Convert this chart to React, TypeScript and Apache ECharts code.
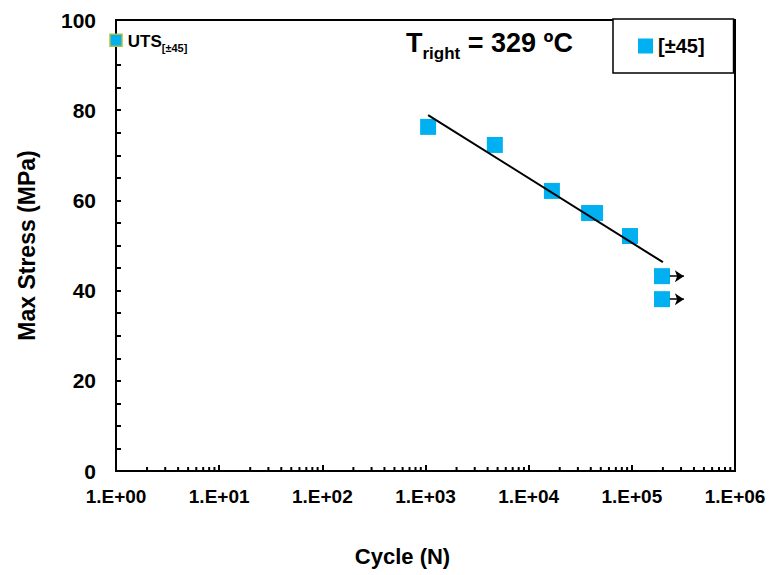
import React, { useEffect, useRef } from "react";
import * as echarts from "echarts";

// Data
const cycles = [1060, 4700, 16800, 38500, 44000, 96000, 196000, 196000];
const stresses = [76.3, 72.3, 62.1, 57.2, 57.2, 52.1, 43.2, 38.1];
const runoutCycles = [196000, 196000];
const runoutStress = [43.2, 38.1];
const trendCycles = [1060, 200000];
const trendStress = [78.9, 46.3];
const utsCycle = [1];
const utsStress = [95.5];
const yTicks = [0, 20, 40, 60, 80, 100];
const decades = [0, 1, 2, 3, 4, 5, 6];

const BLUE = "#00B0F0";
const FONT = "'Liberation Sans', Arial, sans-serif";

export default function App() {
  const ref = useRef<HTMLDivElement>(null);

  useEffect(() => {
    if (!ref.current) return;
    const chart = echarts.init(ref.current, null, { renderer: "svg" });

    const minorTicks: number[][] = [];
    for (let d = 0; d < decades.length - 1; d++) {
      for (let m = 2; m <= 9; m++) minorTicks.push([m * Math.pow(10, decades[d]), 0]);
    }

    const arrowData = runoutCycles.map((c, i) => [
      { coord: [c * 1.19, runoutStress[i]] },
      { coord: [c * 1.63, runoutStress[i]] },
    ]);

    const option: any = {
      animation: false,
      backgroundColor: "#fff",
      textStyle: { fontFamily: FONT },
      grid: {
        left: 116,
        right: 39,
        top: 20,
        bottom: 104,
        show: true,
        borderColor: "#000",
        borderWidth: 2,
        backgroundColor: "transparent",
      },
      legend: {
        data: [{ name: "[±45]", icon: "rect" }],
        left: 613,
        top: 19,
        padding: [17, 29, 17, 25],
        itemWidth: 15,
        itemHeight: 15,
        itemGap: 0,
        borderColor: "#000",
        borderWidth: 1.5,
        borderRadius: 0,
        backgroundColor: "#fff",
        textStyle: { fontSize: 20, fontWeight: "bold", color: "#000", fontFamily: FONT },
      },
      graphic: [
        {
          type: "text",
          left: 406,
          top: 29,
          z: 100,
          style: {
            text: "{a|T}{b|right}{a| = 329 ºC}",
            fill: "#000",
            rich: {
              a: { fontSize: 27, fontWeight: "bold", fontFamily: FONT, fill: "#000", verticalAlign: "bottom", lineHeight: 30 },
              b: { fontSize: 17, fontWeight: "bold", fontFamily: FONT, fill: "#000", verticalAlign: "bottom", lineHeight: 21, padding: [0, 0, -6, 0] },
            },
          },
        },
      ],
      xAxis: {
        type: "log",
        logBase: 10,
        min: 1,
        max: 1e6,
        splitNumber: 6,
        name: "Cycle (N)",
        nameLocation: "middle",
        nameGap: 74,
        nameTextStyle: { fontSize: 22, fontWeight: "bold", color: "#000", fontFamily: FONT, padding: [0, 46, 0, 0] },
        axisLine: { show: true, lineStyle: { color: "#000", width: 2 } },
        axisTick: { show: true, inside: true, length: 6, lineStyle: { color: "#000", width: 2 } },
        splitLine: { show: false },
        axisLabel: {
          margin: 16,
          fontSize: 19,
          fontWeight: "bold",
          color: "#000",
          fontFamily: FONT,
          formatter: (v: number) => {
            const e = Math.round(Math.log10(v));
            return "1.E+" + String(e).padStart(2, "0");
          },
        },
      },
      yAxis: {
        type: "value",
        min: yTicks[0],
        max: yTicks[yTicks.length - 1],
        interval: 20,
        name: "Max Stress (MPa)",
        nameLocation: "middle",
        nameGap: 78,
        nameTextStyle: { fontSize: 23, fontWeight: "bold", color: "#000", fontFamily: FONT },
        axisLine: { show: true, lineStyle: { color: "#000", width: 2 } },
        axisTick: { show: true, inside: true, length: 5, lineStyle: { color: "#000", width: 2 } },
        minorTick: { show: true, splitNumber: 4, length: 5, lineStyle: { color: "#000", width: 2 } },
        splitLine: { show: false },
        axisLabel: { margin: 20, fontSize: 21, fontWeight: "bold", color: "#000", fontFamily: FONT },
      },
      series: [
        {
          type: "custom",
          name: "minorTicks",
          silent: true,
          clip: false,
          z: 5,
          data: minorTicks,
          renderItem: (params: any, api: any) => {
            const p = api.coord([api.value(0), api.value(1)]);
            return {
              type: "line",
              shape: { x1: p[0], y1: p[1], x2: p[0], y2: p[1] - 4 },
              style: { stroke: "#000", lineWidth: 2 },
            };
          },
        },
        {
          type: "line",
          name: "trend",
          data: trendCycles.map((c, i) => [c, trendStress[i]]),
          showSymbol: false,
          symbol: "none",
          lineStyle: { color: "#000", width: 2 },
          silent: true,
          z: 4,
        },
        {
          type: "scatter",
          name: "[±45]",
          data: cycles.map((c, i) => [c, stresses[i]]),
          symbol: "rect",
          symbolSize: 16,
          itemStyle: { color: BLUE, opacity: 1 },
          z: 3,
          markLine: {
            silent: true,
            symbol: ["none", "arrow"],
            symbolSize: [9, 9],
            label: { show: false },
            lineStyle: { color: "#000", width: 1.5, type: "solid" },
            data: arrowData,
          },
        },
        {
          type: "scatter",
          name: "UTS",
          data: utsCycle.map((c, i) => [c, utsStress[i]]),
          symbol: "rect",
          symbolSize: 12,
          clip: false,
          itemStyle: { color: BLUE, borderColor: "#A8BE45", borderWidth: 1.5, opacity: 1 },
          z: 6,
          label: {
            show: true,
            position: "right",
            distance: 5,
            color: "#000",
            fontWeight: "bold",
            fontSize: 17,
            fontFamily: FONT,
            formatter: "{u|UTS}{s|[±45]}",
            rich: {
              u: { fontSize: 17, fontWeight: "bold", color: "#000", fontFamily: FONT, verticalAlign: "bottom", lineHeight: 19 },
              s: { fontSize: 11, fontWeight: "bold", color: "#000", fontFamily: FONT, verticalAlign: "bottom", lineHeight: 19, padding: [0, 0, -4, 0] },
            },
          },
        },
      ],
    };

    chart.setOption(option);
    return () => chart.dispose();
  }, []);

  return (
    <div
      ref={ref}
      style={{ position: "fixed", left: 0, top: 0, width: 774, height: 575 }}
    />
  );
}
